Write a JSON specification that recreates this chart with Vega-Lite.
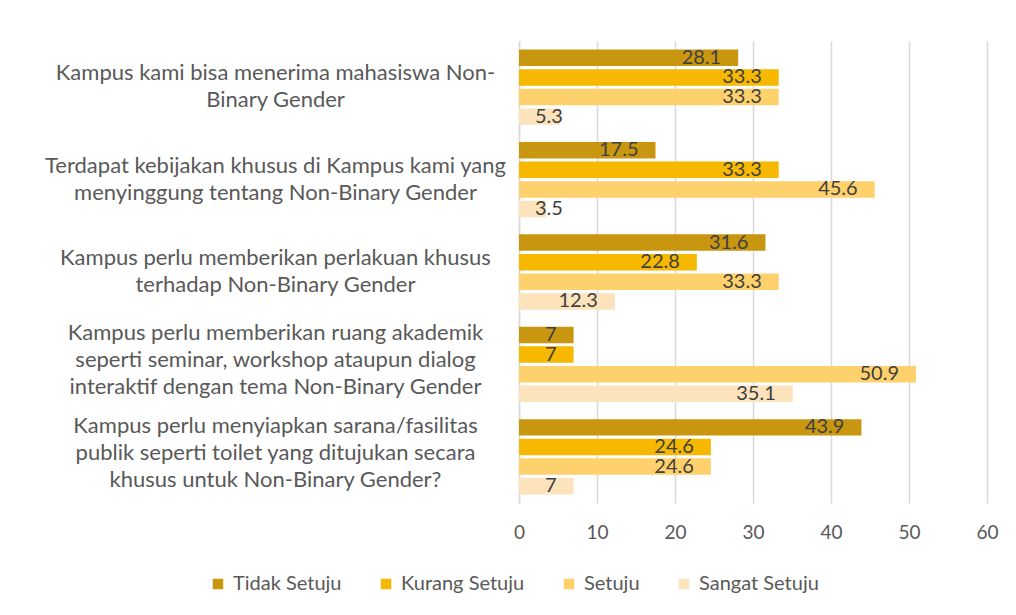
{
  "$schema": "https://vega.github.io/schema/vega-lite/v6.json",
  "width": 468,
  "height": 462,
  "autosize": {"type": "none"},
  "padding": {"left": 519, "top": 41, "right": 29, "bottom": 112},
  "background": "white",
  "config": {
    "font": "Lato",
    "view": {"stroke": null}
  },
  "data": {
    "values": [
      {"statement": "Kampus kami bisa menerima mahasiswa Non-\nBinary Gender", "response": "Tidak Setuju", "value": 28.1},
      {"statement": "Kampus kami bisa menerima mahasiswa Non-\nBinary Gender", "response": "Kurang Setuju", "value": 33.3},
      {"statement": "Kampus kami bisa menerima mahasiswa Non-\nBinary Gender", "response": "Setuju", "value": 33.3},
      {"statement": "Kampus kami bisa menerima mahasiswa Non-\nBinary Gender", "response": "Sangat Setuju", "value": 5.3},
      {"statement": "Terdapat kebijakan khusus di Kampus kami yang\nmenyinggung tentang Non-Binary Gender", "response": "Tidak Setuju", "value": 17.5},
      {"statement": "Terdapat kebijakan khusus di Kampus kami yang\nmenyinggung tentang Non-Binary Gender", "response": "Kurang Setuju", "value": 33.3},
      {"statement": "Terdapat kebijakan khusus di Kampus kami yang\nmenyinggung tentang Non-Binary Gender", "response": "Setuju", "value": 45.6},
      {"statement": "Terdapat kebijakan khusus di Kampus kami yang\nmenyinggung tentang Non-Binary Gender", "response": "Sangat Setuju", "value": 3.5},
      {"statement": "Kampus perlu memberikan perlakuan khusus\nterhadap Non-Binary Gender", "response": "Tidak Setuju", "value": 31.6},
      {"statement": "Kampus perlu memberikan perlakuan khusus\nterhadap Non-Binary Gender", "response": "Kurang Setuju", "value": 22.8},
      {"statement": "Kampus perlu memberikan perlakuan khusus\nterhadap Non-Binary Gender", "response": "Setuju", "value": 33.3},
      {"statement": "Kampus perlu memberikan perlakuan khusus\nterhadap Non-Binary Gender", "response": "Sangat Setuju", "value": 12.3},
      {"statement": "Kampus perlu memberikan ruang akademik\nseperti seminar, workshop ataupun dialog\ninteraktif dengan tema Non-Binary Gender", "response": "Tidak Setuju", "value": 7},
      {"statement": "Kampus perlu memberikan ruang akademik\nseperti seminar, workshop ataupun dialog\ninteraktif dengan tema Non-Binary Gender", "response": "Kurang Setuju", "value": 7},
      {"statement": "Kampus perlu memberikan ruang akademik\nseperti seminar, workshop ataupun dialog\ninteraktif dengan tema Non-Binary Gender", "response": "Setuju", "value": 50.9},
      {"statement": "Kampus perlu memberikan ruang akademik\nseperti seminar, workshop ataupun dialog\ninteraktif dengan tema Non-Binary Gender", "response": "Sangat Setuju", "value": 35.1},
      {"statement": "Kampus perlu menyiapkan sarana/fasilitas\npublik seperti toilet yang ditujukan secara\nkhusus untuk Non-Binary Gender?", "response": "Tidak Setuju", "value": 43.9},
      {"statement": "Kampus perlu menyiapkan sarana/fasilitas\npublik seperti toilet yang ditujukan secara\nkhusus untuk Non-Binary Gender?", "response": "Kurang Setuju", "value": 24.6},
      {"statement": "Kampus perlu menyiapkan sarana/fasilitas\npublik seperti toilet yang ditujukan secara\nkhusus untuk Non-Binary Gender?", "response": "Setuju", "value": 24.6},
      {"statement": "Kampus perlu menyiapkan sarana/fasilitas\npublik seperti toilet yang ditujukan secara\nkhusus untuk Non-Binary Gender?", "response": "Sangat Setuju", "value": 7}
    ]
  },
  "encoding": {
    "y": {
      "field": "statement",
      "type": "nominal",
      "sort": null,
      "scale": {"paddingInner": 0.185, "paddingOuter": 0.0925},
      "axis": {
        "title": null,
        "labelExpr": "split(datum.value, '\\n')",
        "labelAlign": "center",
        "labelPadding": 244,
        "labelLimit": 600,
        "labelFont": "Lato",
        "labelFontSize": 22,
        "labelLineHeight": 27,
        "labelColor": "#595959",
        "labelOffset": {"condition": {"test": "length(split(datum.value, '\\n')) == 3", "value": -31}, "value": -14},
        "ticks": false,
        "domain": true,
        "domainColor": "#d9d9d9",
        "domainWidth": 1.5
      }
    },
    "yOffset": {
      "field": "response",
      "type": "nominal",
      "sort": ["Tidak Setuju", "Kurang Setuju", "Setuju", "Sangat Setuju"],
      "scale": {"paddingInner": 0.16, "paddingOuter": 0}
    },
    "x": {
      "field": "value",
      "type": "quantitative",
      "scale": {"domain": [0, 60], "nice": false},
      "axis": {
        "title": null,
        "values": [0, 10, 20, 30, 40, 50, 60],
        "grid": true,
        "gridColor": "#d9d9d9",
        "gridWidth": 1.5,
        "domain": false,
        "ticks": false,
        "labelFlush": false,
        "labelPadding": 20,
        "labelFont": "Lato",
        "labelFontSize": 19,
        "labelColor": "#595959"
      }
    }
  },
  "layer": [
    {
      "mark": {"type": "bar"},
      "encoding": {
        "color": {
          "field": "response",
          "type": "nominal",
          "sort": ["Tidak Setuju", "Kurang Setuju", "Setuju", "Sangat Setuju"],
          "scale": {
            "domain": ["Tidak Setuju", "Kurang Setuju", "Setuju", "Sangat Setuju"],
            "range": ["#C9960F", "#F6B800", "#FFD16C", "#FDE3BC"]
          },
          "legend": {
            "title": null,
            "orient": "none",
            "legendX": -311,
            "legendY": 533,
            "direction": "horizontal",
            "symbolType": "square",
            "symbolSize": 110,
            "symbolStrokeWidth": 0,
            "labelFont": "Lato",
            "labelFontSize": 20,
            "labelColor": "#595959",
            "labelOffset": 5,
            "columnPadding": 34
          }
        }
      }
    },
    {
      "transform": [{"filter": "datum.value >= 7"}],
      "mark": {"type": "text", "align": "right", "baseline": "middle", "dx": -17, "font": "Lato", "fontSize": 20, "color": "#404040"},
      "encoding": {"text": {"field": "value", "type": "quantitative"}}
    },
    {
      "transform": [{"filter": "datum.value < 7"}],
      "mark": {"type": "text", "align": "left", "baseline": "middle", "dx": 16, "font": "Lato", "fontSize": 20, "color": "#404040"},
      "encoding": {
        "x": {"datum": 0},
        "text": {"field": "value", "type": "quantitative"}
      }
    }
  ]
}
